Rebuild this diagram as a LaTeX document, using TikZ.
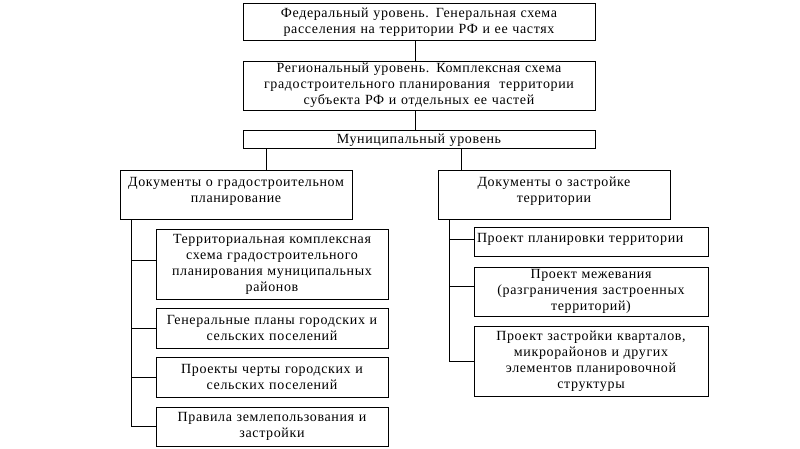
\documentclass[tikz,border=0pt]{standalone}
\usepackage{fontspec}
\setmainfont{Liberation Serif}[LetterSpace=4.5]
\usetikzlibrary{positioning}
\newcommand\boxfont{\fontsize{14}{16}\selectfont}
\tikzset{
  levelbox/.style= {
    rectangle,
    draw,
    line width = 0.9pt,
    align = center,
    font = \boxfont,
    inner xsep = 3pt,
    inner ysep = 2pt
  },
  wide/.style= {
    levelbox,
    text width = 346pt
  },
  docbox/.style= {
    levelbox,
    text width = 226pt,
    minimum height = #1
  },
  link/.style= {
    line width = 0.9pt
  }
}

\begin{document}
\begin{tikzpicture}[x=1pt,y=1pt]
  \useasboundingbox (0,0) rectangle (800,-449);

  \node[wide,minimum height=37pt,anchor=north] (fed) at (419,-3) {
    Федеральный уровень. Генеральная схема\\расселения на территории РФ и ее частях};
  \node[wide,minimum height=48pt,below=20pt of fed] (reg) {
    Региональный уровень. Комплексная схема\\градостроительного планирования~~территории\\субъекта РФ и отдельных ее частей};
  \node[wide,minimum height=18pt,below=20pt of reg] (mun) {Муниципальный уровень};
  \draw[link] ([xshift=-4pt]fed.south) -- ([xshift=-4pt]reg.north);
  \draw[link] ([xshift=-4pt]reg.south) -- ([xshift=-4pt]mun.north);

  % two kinds of documents
  \node[docbox=49pt,text depth=26pt,anchor=north] (plandocs) at (236,-170) {
    Документы о градостроительном\\планирование};
  \node[docbox=49pt,text depth=26pt,anchor=north] (builddocs) at (554,-170) {
    Документы о застройке\\территории};
  \coordinate (tapL) at ([xshift=24pt]mun.south west);
  \coordinate (tapR) at ([xshift=219pt]mun.south west);
  \draw[link] (tapL) -- (tapL |- plandocs.north);
  \draw[link] (tapR) -- (tapR |- builddocs.north);

  % left column
  \node[docbox=70pt,below right=9pt and 36pt of plandocs.south west] (tcs) {
    Территориальная комплексная\\схема градостроительного\\планирования муниципальных\\районов};
  \node[docbox=40pt,below=8pt of tcs] (genplan) {
    Генеральные планы городских и\\сельских поселений};
  \node[docbox=40pt,below=8pt of genplan] (border) {
    Проекты черты городских и\\сельских поселений};
  \node[docbox=39pt,below=9pt of border] (rules) {
    Правила землепользования и\\застройки};
  \coordinate (trunkL) at ([xshift=12pt]plandocs.south west);
  \draw[link] (trunkL) |- (rules.west);
  \draw[link] ([yshift=4pt]tcs.west) -- ([yshift=4pt]tcs.west -| trunkL);
  \foreach \n in {genplan,border}
    \draw[link] (\n.west) -- (\n.west -| trunkL);

  % right column
  \node[levelbox,text width=228pt,align=left,text height=13pt,text depth=12pt,
    below right=7pt and 36pt of builddocs.south west] (layout) {Проект планировки территории};
  \node[docbox=49pt,text width=228pt,below=10pt of layout] (survey) {
    Проект межевания\\(разграничения застроенных\\территорий)};
  \node[docbox=70pt,text width=228pt,below=9pt of survey] (blocks) {
    Проект застройки кварталов,\\микрорайонов и других\\элементов планировочной\\структуры};
  \coordinate (trunkR) at ([xshift=12pt]builddocs.south west);
  \draw[link] (trunkR) |- (blocks.west);
  \draw[link] ([yshift=2pt]layout.west) -- ([yshift=2pt]layout.west -| trunkR);
  \draw[link] ([yshift=5pt]survey.west) -- ([yshift=5pt]survey.west -| trunkR);
\end{tikzpicture}
\end{document}
